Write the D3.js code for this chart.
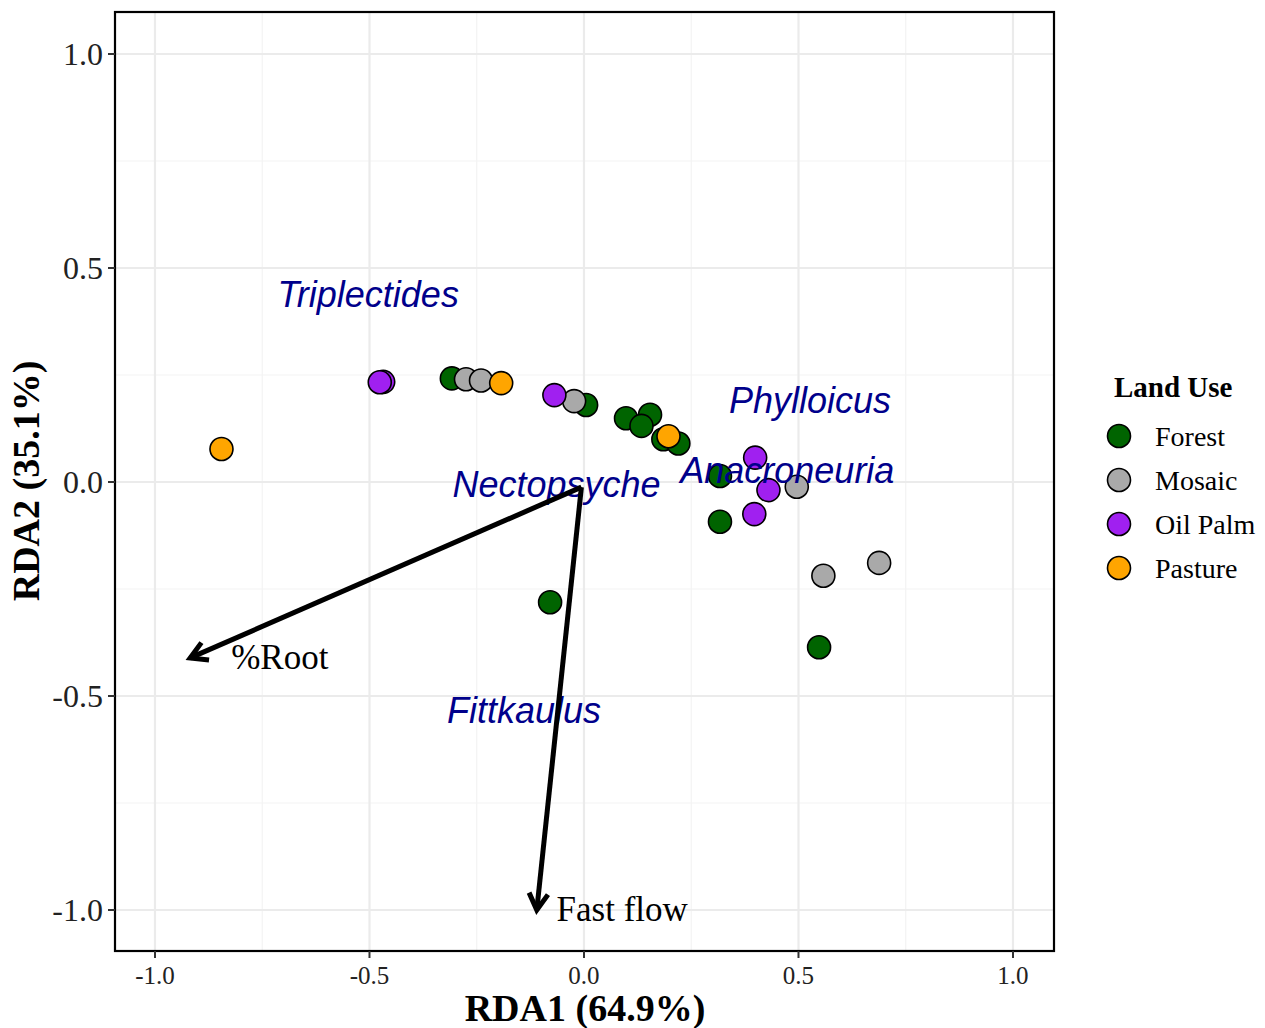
<!DOCTYPE html>
<html>
<head>
<meta charset="utf-8">
<script src="https://cdn.jsdelivr.net/npm/d3@7"></script>
<style>
    body { margin: 0; background: #fff; }
    svg { display: block; }
    .tick-y { font-family: "Liberation Serif", "Times New Roman", serif; font-size: 32px; fill: #222; }
    .tick-x { font-family: "Liberation Serif", "Times New Roman", serif; font-size: 25px; fill: #222; }
    .axis-title { font-family: "Liberation Serif", "Times New Roman", serif; font-size: 38px; font-weight: bold; fill: #000; }
    .species { font-family: "Liberation Sans", Arial, sans-serif; font-style: italic; font-size: 36px; fill: #00008B; }
    .env-label { font-family: "Liberation Serif", "Times New Roman", serif; font-size: 35px; fill: #000; }
    .legend-title { font-family: "Liberation Serif", "Times New Roman", serif; font-size: 29px; font-weight: bold; }
    .legend-label { font-family: "Liberation Serif", "Times New Roman", serif; font-size: 28px; }
</style>
</head>
<body>
<svg id="chart" width="1265" height="1028"></svg>
<script>
    // site scores (RDA1, RDA2) by land use
    const landUses = ["Forest", "Mosaic", "Oil Palm", "Pasture"];
    const landColors = ["#006400", "#A9A9A9", "#A020F0", "#FFA500"];

    const forestSites = [
        [-0.308, 0.242], [0.005, 0.180], [0.098, 0.149], [0.154, 0.157],
        [0.134, 0.131], [0.185, 0.100], [0.220, 0.090], [0.317, 0.014],
        [0.317, -0.093], [-0.079, -0.281], [0.548, -0.386]
    ];
    const mosaicSites = [
        [-0.275, 0.240], [-0.240, 0.237], [-0.023, 0.189],
        [0.496, -0.011], [0.558, -0.219], [0.688, -0.189]
    ];
    const oilPalmSites = [
        [-0.468, 0.234], [-0.476, 0.233], [-0.069, 0.203],
        [0.399, 0.057], [0.430, -0.019], [0.397, -0.075]
    ];
    const pastureSites = [
        [-0.193, 0.231], [0.197, 0.107], [-0.845, 0.077]
    ];

    // species labels
    const speciesNames = ["Triplectides", "Phylloicus", "Anacroneuria", "Nectopsyche", "Fittkaulus"];
    const speciesScores = [[-0.503, 0.436], [0.527, 0.188], [0.474, 0.025], [-0.064, -0.008], [-0.140, -0.536]];

    // environmental vectors
    const envNames = ["%Root", "Fast flow"];
    const envStart = [[-0.006, -0.012], [-0.006, -0.012]];
    const envEnd = [[-0.918, -0.411], [-0.110, -1.0]];
    const envLabelPos = [[-0.709, -0.409], [0.089, -0.998]];

    const xTicks = [-1.0, -0.5, 0.0, 0.5, 1.0];
    const yTicks = [-1.0, -0.5, 0.0, 0.5, 1.0];
    const minorTicks = [-0.75, -0.25, 0.25, 0.75];

    const svg = d3.select("#chart");
    const panel = { left: 115, right: 1054, top: 12, bottom: 951 };

    const x = d3.scaleLinear().domain([-1.0932, 1.0956]).range([panel.left, panel.right]);
    const y = d3.scaleLinear().domain([-1.0958, 1.0981]).range([panel.bottom, panel.top]);

    // grid
    const grid = svg.append("g");
    minorTicks.forEach(t => {
        grid.append("line").attr("x1", x(t)).attr("x2", x(t))
            .attr("y1", panel.top).attr("y2", panel.bottom)
            .attr("stroke", "#F3F3F3").attr("stroke-width", 1.2);
        grid.append("line").attr("y1", y(t)).attr("y2", y(t))
            .attr("x1", panel.left).attr("x2", panel.right)
            .attr("stroke", "#F3F3F3").attr("stroke-width", 1.2);
    });
    xTicks.forEach(t => {
        grid.append("line").attr("x1", x(t)).attr("x2", x(t))
            .attr("y1", panel.top).attr("y2", panel.bottom)
            .attr("stroke", "#EBEBEB").attr("stroke-width", 2.2);
    });
    yTicks.forEach(t => {
        grid.append("line").attr("y1", y(t)).attr("y2", y(t))
            .attr("x1", panel.left).attr("x2", panel.right)
            .attr("stroke", "#EBEBEB").attr("stroke-width", 2.2);
    });

    // points
    const allSites = [forestSites, mosaicSites, oilPalmSites, pastureSites];
    const pts = [];
    allSites.forEach((arr, i) => arr.forEach(p => pts.push({ x: p[0], y: p[1], c: landColors[i] })));
    svg.append("g").selectAll("circle").data(pts).enter().append("circle")
        .attr("cx", d => x(d.x)).attr("cy", d => y(d.y)).attr("r", 11.5)
        .attr("fill", d => d.c).attr("stroke", "#000").attr("stroke-width", 1.6);

    // species labels
    svg.append("g").selectAll("text").data(speciesNames).enter().append("text")
        .attr("class", "species")
        .attr("x", (d, i) => x(speciesScores[i][0]))
        .attr("y", (d, i) => y(speciesScores[i][1]))
        .attr("dy", "0.33em").attr("text-anchor", "middle")
        .text(d => d);

    // arrows
    const arrows = svg.append("g");
    envNames.forEach((name, i) => {
        const x0 = x(envStart[i][0]), y0 = y(envStart[i][1]);
        const x1 = x(envEnd[i][0]), y1 = y(envEnd[i][1]);
        arrows.append("line").attr("x1", x0).attr("y1", y0).attr("x2", x1).attr("y2", y1)
            .attr("stroke", "#000").attr("stroke-width", 5);
        const ang = Math.atan2(y1 - y0, x1 - x0);
        const len = 19, spread = Math.PI / 6;
        const pA = [x1 - len * Math.cos(ang - spread), y1 - len * Math.sin(ang - spread)];
        const pB = [x1 - len * Math.cos(ang + spread), y1 - len * Math.sin(ang + spread)];
        arrows.append("path")
            .attr("d", `M${pA[0]},${pA[1]}L${x1},${y1}L${pB[0]},${pB[1]}`)
            .attr("fill", "none").attr("stroke", "#000").attr("stroke-width", 5)
            .attr("stroke-linejoin", "miter");
        arrows.append("text").attr("class", "env-label")
            .attr("x", x(envLabelPos[i][0])).attr("y", y(envLabelPos[i][1]))
            .attr("dy", "0.35em").attr("text-anchor", "middle")
            .text(name);
    });

    // panel border
    svg.append("rect").attr("x", panel.left).attr("y", panel.top)
        .attr("width", panel.right - panel.left).attr("height", panel.bottom - panel.top)
        .attr("fill", "none").attr("stroke", "#000").attr("stroke-width", 2.2);

    // axes
    const xAxis = svg.append("g");
    xTicks.forEach(t => {
        xAxis.append("line").attr("x1", x(t)).attr("x2", x(t))
            .attr("y1", panel.bottom).attr("y2", panel.bottom + 7)
            .attr("stroke", "#333").attr("stroke-width", 2);
        xAxis.append("text").attr("class", "tick-x")
            .attr("x", x(t)).attr("y", 984).attr("text-anchor", "middle")
            .text(d3.format(".1f")(t).replace("−", "-"));
    });
    const yAxis = svg.append("g");
    yTicks.forEach(t => {
        yAxis.append("line").attr("y1", y(t)).attr("y2", y(t))
            .attr("x1", panel.left - 7).attr("x2", panel.left)
            .attr("stroke", "#333").attr("stroke-width", 2);
        yAxis.append("text").attr("class", "tick-y")
            .attr("x", panel.left - 12).attr("y", y(t)).attr("dy", "0.35em")
            .attr("text-anchor", "end")
            .text(d3.format(".1f")(t).replace("−", "-"));
    });

    svg.append("text").attr("class", "axis-title")
        .attr("x", 585).attr("y", 1021).attr("text-anchor", "middle")
        .text("RDA1 (64.9%)");
    svg.append("text").attr("class", "axis-title")
        .attr("transform", "translate(39,481) rotate(-90)")
        .attr("text-anchor", "middle")
        .text("RDA2 (35.1%)");

    // legend
    const legend = svg.append("g");
    legend.append("text").attr("class", "legend-title")
        .attr("x", 1114).attr("y", 397).text("Land Use");
    landUses.forEach((name, i) => {
        const cy = 436 + i * 44;
        legend.append("circle").attr("cx", 1119).attr("cy", cy).attr("r", 11.5)
            .attr("fill", landColors[i]).attr("stroke", "#000").attr("stroke-width", 1.6);
        legend.append("text").attr("class", "legend-label")
            .attr("x", 1155).attr("y", cy).attr("dy", "0.35em").text(name);
    });
</script>
</body>
</html>
